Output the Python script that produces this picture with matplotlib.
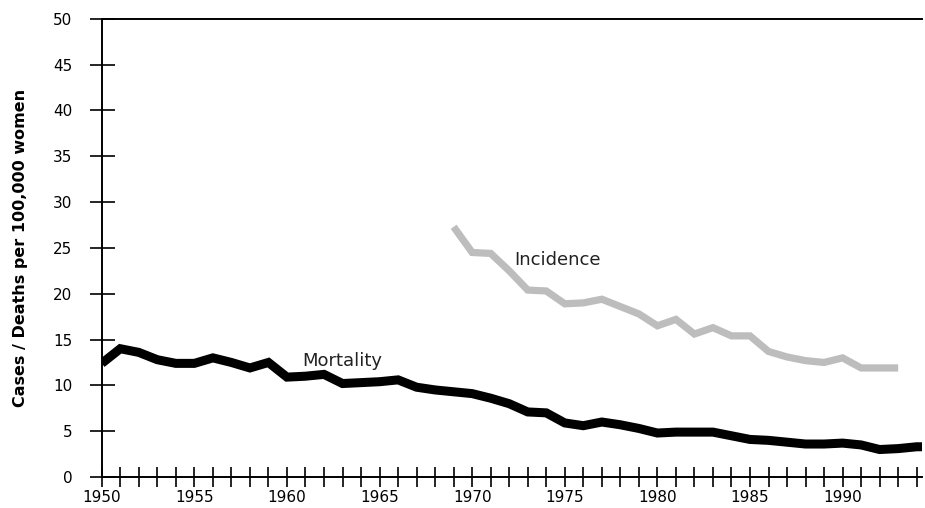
import matplotlib
matplotlib.use('Agg')
import matplotlib.pyplot as plt
from matplotlib.ticker import MultipleLocator

# Mortality and incidence rates, per 100,000 women
mort_years = list(range(1950, 1996))
mortality = [12.4, 14.0, 13.6, 12.8, 12.4, 12.4, 13.0, 12.5, 11.9, 12.5,
             10.9, 11.0, 11.2, 10.2, 10.3, 10.4, 10.6, 9.8, 9.5, 9.3,
             9.1, 8.6, 8.0, 7.1, 7.0, 5.9, 5.6, 6.0, 5.7, 5.3,
             4.8, 4.9, 4.9, 4.9, 4.5, 4.1, 4.0, 3.8, 3.6, 3.6,
             3.7, 3.5, 3.0, 3.1, 3.3, 3.3]

inc_years = list(range(1969, 1994))
incidence = [27.3, 24.5, 24.4, 22.5, 20.4, 20.3, 18.9, 19.0, 19.4, 18.6,
             17.8, 16.5, 17.2, 15.6, 16.3, 15.4, 15.4, 13.7, 13.1, 12.7,
             12.5, 13.0, 11.9, 11.9, 11.9]

fig = plt.figure(figsize=(9.25, 5.08), dpi=100)
ax = fig.add_axes([0.110, 0.061, 0.887, 0.902])

ax.plot(inc_years, incidence, color='#bdbdbd', linewidth=5.2, solid_capstyle='butt',
        solid_joinstyle='miter')
ax.plot(mort_years, mortality, color='black', linewidth=6.5, solid_capstyle='butt',
        solid_joinstyle='miter')

ax.text(1974.6, 23.7, 'Incidence', fontsize=13, color='#222222', va='center', ha='center')
ax.text(1963.0, 12.7, 'Mortality', fontsize=13, color='#222222', va='center', ha='center')

ax.set_xlim(1950, 1994.3)
ax.set_ylim(0, 50)
ax.xaxis.set_major_locator(MultipleLocator(5))
ax.xaxis.set_minor_locator(MultipleLocator(1))
ax.yaxis.set_major_locator(MultipleLocator(5))

ax.spines['right'].set_visible(False)
for s in ['left', 'bottom', 'top']:
    ax.spines[s].set_linewidth(1.4)

ax.tick_params(axis='x', which='both', direction='inout', length=14, width=1.2,
               pad=2, labelsize=11)
ax.tick_params(axis='y', which='both', direction='inout', length=18, width=1.2,
               pad=12, labelsize=11)

ax.set_ylabel('Cases / Deaths per 100,000 women', fontsize=11.5, fontweight='bold',
              labelpad=18)

fig.savefig('out.png', dpi=100)
